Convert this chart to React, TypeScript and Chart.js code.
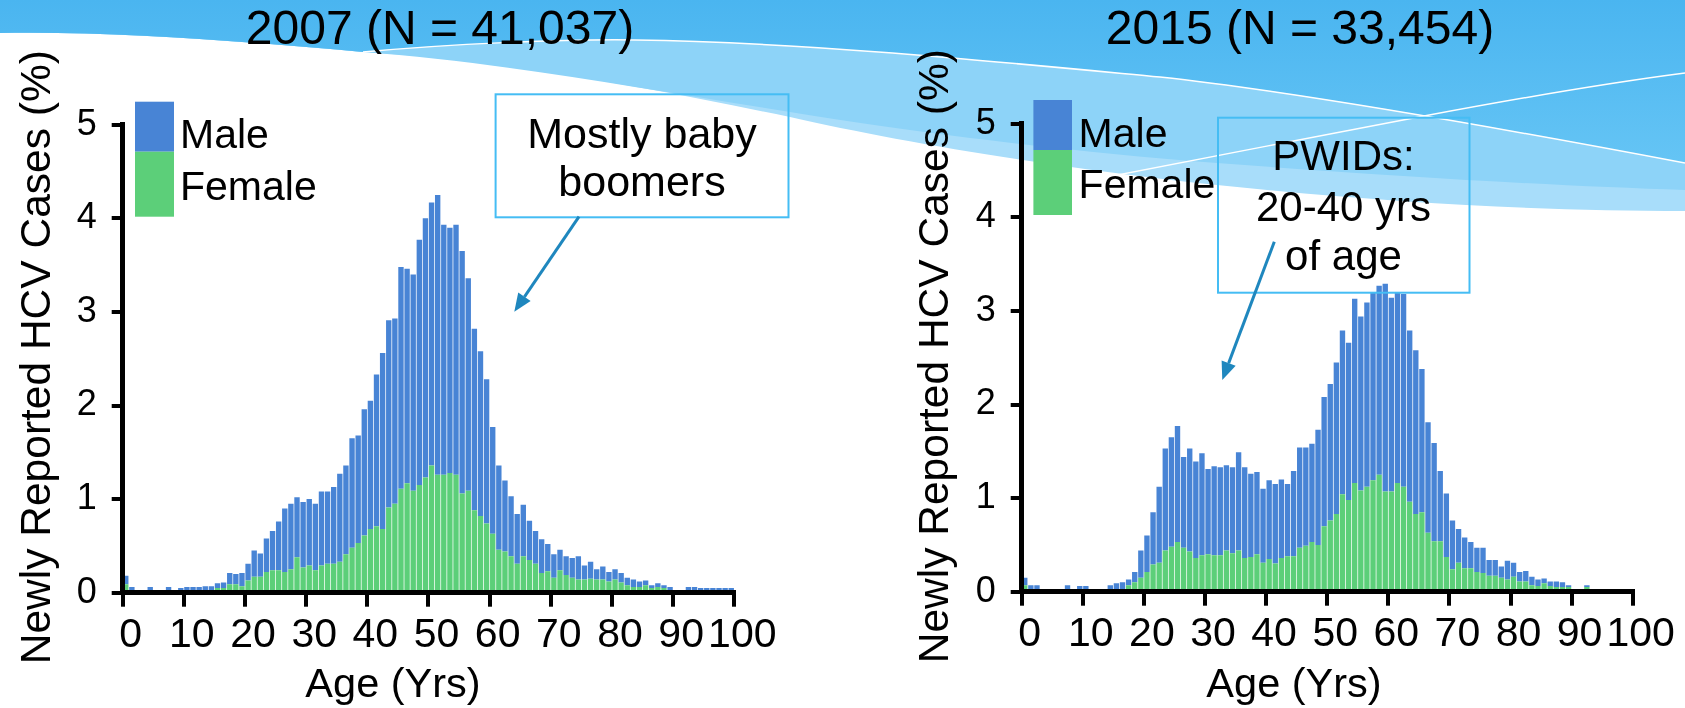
import React, { useEffect, useRef } from 'react';
import { Chart, registerables } from 'chart.js';

Chart.register(...registerables);

// ---------- data ----------
const AGES: number[] = Array.from({ length: 100 }, (_, i) => i); // age categories 0..99
const X_TICKS = [0, 10, 20, 30, 40, 50, 60, 70, 80, 90, 100];
const Y_TICKS = [0, 1, 2, 3, 4, 5];

const MALE_2007 = [
  0.09, 0.06, 0, 0, 0.06, 0, 0, 0.06, 0, 0.05,
  0.06, 0.06, 0.06, 0.07, 0.07, 0.05, 0.06, 0.12, 0.11, 0.14,
  0.18, 0.28, 0.25, 0.36, 0.42, 0.52, 0.68, 0.70, 0.64, 0.70,
  0.71, 0.71, 0.79, 0.77, 0.82, 0.94, 0.95, 1.17, 1.15, 1.35,
  1.37, 1.62, 1.88, 2.00, 1.98, 2.37, 2.29, 2.31, 2.62, 2.77,
  2.81, 2.99, 2.67, 2.62, 2.67, 2.59, 2.27, 1.94, 1.76, 1.54,
  1.14, 0.90, 0.76, 0.64, 0.53, 0.55, 0.42, 0.35, 0.36, 0.29,
  0.25, 0.22, 0.20, 0.21, 0.25, 0.15, 0.18, 0.11, 0.14, 0.10,
  0.11, 0.10, 0.08, 0.08, 0.06, 0.05, 0.03, 0.04, 0.03, 0.06,
  0, 0, 0.06, 0.06, 0.05, 0.05, 0.05, 0.05, 0.05, 0.05,
];
const FEMALE_2007 = [
  0.09, 0, 0, 0, 0, 0, 0, 0, 0, 0,
  0, 0, 0, 0, 0, 0.05, 0.05, 0.09, 0.09, 0.07,
  0.13, 0.17, 0.17, 0.22, 0.24, 0.24, 0.22, 0.25, 0.38, 0.27,
  0.29, 0.24, 0.29, 0.31, 0.31, 0.33, 0.41, 0.48, 0.53, 0.61,
  0.68, 0.71, 0.68, 0.91, 0.95, 1.11, 1.17, 1.09, 1.15, 1.23,
  1.36, 1.26, 1.26, 1.28, 1.26, 1.06, 1.09, 0.88, 0.82, 0.74,
  0.63, 0.46, 0.44, 0.39, 0.31, 0.39, 0.35, 0.31, 0.21, 0.23,
  0.16, 0.24, 0.19, 0.16, 0.14, 0.14, 0.15, 0.14, 0.14, 0.12,
  0.14, 0.11, 0.08, 0.06, 0.06, 0.08, 0.05, 0.06, 0.05, 0,
  0, 0, 0, 0, 0, 0, 0, 0, 0, 0,
];
const MALE_2015 = [
  0.08, 0.07, 0.07, 0, 0, 0, 0, 0.07, 0, 0.06,
  0.06, 0, 0, 0, 0.07, 0.09, 0.07, 0.06, 0.11, 0.29,
  0.39, 0.56, 0.81, 1.09, 1.17, 1.24, 0.97, 1.10, 1.03, 1.09,
  0.91, 0.95, 0.94, 0.91, 0.92, 1.05, 0.97, 0.89, 0.88, 0.79,
  0.84, 0.85, 0.84, 0.77, 0.91, 1.07, 1.05, 1.05, 1.23, 1.38,
  1.46, 1.62, 1.75, 1.68, 1.97, 1.86, 1.97, 2.01, 2.02, 2.22,
  2.07, 2.04, 2.06, 1.83, 1.75, 1.53, 1.18, 1.05, 0.75, 0.68,
  0.52, 0.36, 0.33, 0.28, 0.26, 0.27, 0.17, 0.17, 0.12, 0.20,
  0.15, 0.10, 0.11, 0.09, 0.07, 0.05, 0.05, 0.06, 0.05, 0.02,
  0, 0, 0.02, 0, 0, 0, 0, 0, 0, 0,
];
const FEMALE_2015 = [
  0.07, 0, 0, 0, 0, 0, 0, 0, 0, 0,
  0, 0, 0, 0, 0, 0, 0.03, 0.07, 0.10, 0.15,
  0.21, 0.29, 0.31, 0.44, 0.48, 0.53, 0.47, 0.43, 0.36, 0.39,
  0.40, 0.39, 0.39, 0.44, 0.41, 0.44, 0.36, 0.37, 0.40, 0.31,
  0.35, 0.30, 0.36, 0.38, 0.38, 0.47, 0.49, 0.53, 0.50, 0.70,
  0.76, 0.83, 1.04, 0.98, 1.16, 1.08, 1.12, 1.19, 1.25, 1.07,
  1.07, 1.16, 1.12, 0.96, 0.83, 0.85, 0.63, 0.54, 0.54, 0.37,
  0.24, 0.31, 0.25, 0.25, 0.21, 0.20, 0.17, 0.17, 0.15, 0.13,
  0.16, 0.11, 0.11, 0.07, 0.06, 0.09, 0.06, 0.05, 0.05, 0.05,
  0, 0, 0.05, 0, 0, 0, 0, 0, 0, 0,
];

const TITLE_2007 = '2007 (N = 41,037)';
const TITLE_2015 = '2015 (N = 33,454)';
const Y_TITLE = 'Newly Reported HCV Cases (%)';
const X_TITLE = 'Age (Yrs)';
const NOTE_2007 = ['Mostly baby', 'boomers'];
const NOTE_2015 = ['PWIDs:', '20-40 yrs', 'of age'];

// ---------- styling ----------
const W = 1685;
const H = 708;
const FONT = "'Liberation Sans', Arial, sans-serif";
const BLUE = '#4884d5';
const GREEN = '#5ccf79';
const BOX_COLOR = '#45bdf4';
const ARROW_COLOR = '#1f87be';
const Y_W = 122.7;

type Panel = {
  title: string;
  male: number[];
  female: number[];
  area: { left: number; right: number; top: number; bottom: number };
  titleX: number;
  yTitleX: number;
  xTitleX: number;
  legend: { x: number; w: number; top: number; mid: number; bottom: number; textX: number; maleBase: number; femaleBase: number };
  box: { x: number; y: number; w: number; h: number; cx: number; font: number; lines: string[]; baselines: number[] };
  arrow: { x1: number; y1: number; x2: number; y2: number };
};

const PANELS: Panel[] = [
  {
    title: TITLE_2007,
    male: MALE_2007,
    female: FEMALE_2007,
    area: { left: 122.7, right: 734.3, top: 124.7, bottom: 592.7 },
    titleX: 440,
    yTitleX: 38,
    xTitleX: 393,
    legend: { x: 135, w: 39, top: 101.7, mid: 151.7, bottom: 216.7, textX: 180, maleBase: 148.3, femaleBase: 200 },
    box: { x: 495.6, y: 94.3, w: 292.9, h: 123, cx: 642, font: 43, lines: NOTE_2007, baselines: [148, 196] },
    arrow: { x1: 579, y1: 216.7, x2: 514.3, y2: 311.7 },
  },
  {
    title: TITLE_2015,
    male: MALE_2015,
    female: FEMALE_2015,
    area: { left: 1021.7, right: 1632.7, top: 123.7, bottom: 591.7 },
    titleX: 1300,
    yTitleX: 936,
    xTitleX: 1294,
    legend: { x: 1033.4, w: 38.6, top: 100, mid: 150, bottom: 215, textX: 1078.6, maleBase: 146.7, femaleBase: 198.3 },
    box: { x: 1218, y: 117.7, w: 251.5, h: 175, cx: 1343.5, font: 42, lines: NOTE_2015, baselines: [170, 221, 270] },
    arrow: { x1: 1274.3, y1: 241.7, x2: 1222.3, y2: 380 },
  },
];

function decorPlugin(p: Panel) {
  return {
    id: 'decor',
    afterDraw(chart: any) {
      const ctx: CanvasRenderingContext2D = chart.ctx;
      ctx.save();
      ctx.fillStyle = '#000';

      // panel title
      ctx.font = `48px ${FONT}`;
      ctx.textAlign = 'center';
      ctx.textBaseline = 'alphabetic';
      ctx.fillText(p.title, p.titleX, 43.5);

      // y-axis title
      ctx.save();
      ctx.translate(p.yTitleX, (p.area.top + p.area.bottom) / 2 - 1.5);
      ctx.rotate(-Math.PI / 2);
      ctx.font = `42.5px ${FONT}`;
      ctx.textAlign = 'center';
      ctx.textBaseline = 'middle';
      ctx.fillText(Y_TITLE, 0, 0);
      ctx.restore();

      // x-axis title
      ctx.font = `41.5px ${FONT}`;
      ctx.textAlign = 'center';
      ctx.textBaseline = 'alphabetic';
      ctx.fillText(X_TITLE, p.xTitleX, 697);

      // legend
      const lg = p.legend;
      ctx.fillStyle = BLUE;
      ctx.fillRect(lg.x, lg.top, lg.w, lg.mid - lg.top);
      ctx.fillStyle = GREEN;
      ctx.fillRect(lg.x, lg.mid, lg.w, lg.bottom - lg.mid);
      ctx.fillStyle = '#000';
      ctx.font = `41px ${FONT}`;
      ctx.textAlign = 'left';
      ctx.fillText('Male', lg.textX, lg.maleBase);
      ctx.fillText('Female', lg.textX, lg.femaleBase);

      // annotation box
      const b = p.box;
      ctx.strokeStyle = BOX_COLOR;
      ctx.lineWidth = 2;
      ctx.strokeRect(b.x, b.y, b.w, b.h);
      ctx.font = `${b.font}px ${FONT}`;
      ctx.textAlign = 'center';
      b.lines.forEach((t, i) => ctx.fillText(t, b.cx, b.baselines[i]));

      // arrow
      const a = p.arrow;
      const ang = Math.atan2(a.y2 - a.y1, a.x2 - a.x1);
      const headLen = 18;
      const headW = 7.5;
      const bx = a.x2 - headLen * Math.cos(ang);
      const by = a.y2 - headLen * Math.sin(ang);
      ctx.strokeStyle = ARROW_COLOR;
      ctx.fillStyle = ARROW_COLOR;
      ctx.lineWidth = 3;
      ctx.beginPath();
      ctx.moveTo(a.x1, a.y1);
      ctx.lineTo(bx, by);
      ctx.stroke();
      ctx.beginPath();
      ctx.moveTo(a.x2, a.y2);
      ctx.lineTo(bx + headW * Math.sin(ang), by - headW * Math.cos(ang));
      ctx.lineTo(bx - headW * Math.sin(ang), by + headW * Math.cos(ang));
      ctx.closePath();
      ctx.fill();

      ctx.restore();
    },
  };
}

function buildChart(canvas: HTMLCanvasElement, p: Panel) {
  const barStyle = { barPercentage: 0.88, categoryPercentage: 1, borderWidth: 0 };
  return new Chart(canvas, {
    type: 'bar',
    data: {
      datasets: [
        {
          label: 'Female',
          data: AGES.map((a, i) => ({ x: a + 0.5, y: p.female[i] })),
          backgroundColor: GREEN,
          ...barStyle,
        },
        {
          label: 'Male',
          data: AGES.map((a, i) => ({ x: a + 0.5, y: p.male[i] })),
          backgroundColor: BLUE,
          ...barStyle,
        },
      ],
    },
    options: {
      responsive: false,
      animation: false,
      events: [],
      layout: {
        padding: { left: p.area.left - Y_W, right: W - p.area.right, top: p.area.top, bottom: 0 },
      },
      plugins: { legend: { display: false }, tooltip: { enabled: false }, title: { display: false } },
      scales: {
        x: {
          type: 'linear',
          offset: false,
          min: X_TICKS[0],
          max: X_TICKS[X_TICKS.length - 1],
          stacked: true,
          afterFit: (s: any) => { s.height = H - p.area.bottom; },
          afterBuildTicks: (s: any) => { s.ticks = X_TICKS.map((v) => ({ value: v })); },
          grid: { offset: false, drawOnChartArea: false, drawTicks: true, tickLength: 14, lineWidth: 4, color: '#000' },
          border: { display: true, color: '#000', width: 5, z: 1 },
          ticks: {
            autoSkip: false,
            maxRotation: 0,
            labelOffset: 8,
            padding: 4,
            color: '#000',
            font: { family: FONT, size: 41 },
          },
        },
        y: {
          type: 'linear',
          min: Y_TICKS[0],
          max: Y_TICKS[Y_TICKS.length - 1],
          stacked: true,
          afterFit: (s: any) => { s.width = Y_W; },
          afterBuildTicks: (s: any) => { s.ticks = Y_TICKS.map((v) => ({ value: v })); },
          grid: { drawOnChartArea: false, drawTicks: true, tickLength: 11, lineWidth: 4, color: '#000' },
          border: { display: true, color: '#000', width: 5, z: 1 },
          ticks: {
            padding: 15,
            color: '#000',
            font: { family: FONT, size: 36 },
          },
        },
      },
    } as any,
    plugins: [decorPlugin(p)],
  });
}

function Background() {
  return (
    <svg width={W} height={H} style={{ position: 'absolute', left: 0, top: 0 }}>
      <defs>
        <linearGradient id="deepBlue" x1="0" y1="0" x2="0" y2="170" gradientUnits="userSpaceOnUse">
          <stop offset="0" stopColor="#4ab5f0" />
          <stop offset="1" stopColor="#66c5f5" />
        </linearGradient>
      </defs>
      <path
        d="M0 0 H1685 V211 C1550 211 1400 204 1217 185 C1050 167 900 142 790 117 C650 88 500 60 363 52 C250 42 120 31 0 33 Z"
        fill="#a8ddfa"
      />
      <path
        d="M0 0 H1685 V190 C1560 186 1400 177 1217 163 C1050 150 900 130 790 112 C650 90 500 62 363 52 C250 42 120 31 0 33 Z"
        fill="#8dd3f8"
      />
      <path
        d="M0 0 H1685 V163 C1500 128 1300 92 1160 77 C1000 62 800 42 636 40 C560 39 450 44 363 52 C250 42 120 31 0 33 Z"
        fill="url(#deepBlue)"
      />
      <path
        d="M363 52 C450 44 560 39 636 40 C800 42 1000 62 1160 77 C1300 92 1500 128 1685 163"
        stroke="#ffffff"
        strokeWidth={1.5}
        fill="none"
      />
      <path
        d="M1040 190 C1150 168 1300 140 1424 116 C1520 98 1600 84 1685 73"
        stroke="#ffffff"
        strokeWidth={1.5}
        fill="none"
      />
    </svg>
  );
}

export default function App() {
  const ref1 = useRef<HTMLCanvasElement>(null);
  const ref2 = useRef<HTMLCanvasElement>(null);

  useEffect(() => {
    document.body.style.margin = '0';
    const charts: Chart[] = [];
    if (ref1.current) charts.push(buildChart(ref1.current, PANELS[0]));
    if (ref2.current) charts.push(buildChart(ref2.current, PANELS[1]));
    return () => charts.forEach((c) => c.destroy());
  }, []);

  const canvasStyle: React.CSSProperties = { position: 'absolute', left: 0, top: 0, width: W, height: H };

  return (
    <div style={{ position: 'relative', width: W, height: H, overflow: 'hidden', background: '#ffffff' }}>
      <Background />
      <canvas ref={ref1} width={W} height={H} style={canvasStyle} />
      <canvas ref={ref2} width={W} height={H} style={canvasStyle} />
    </div>
  );
}
